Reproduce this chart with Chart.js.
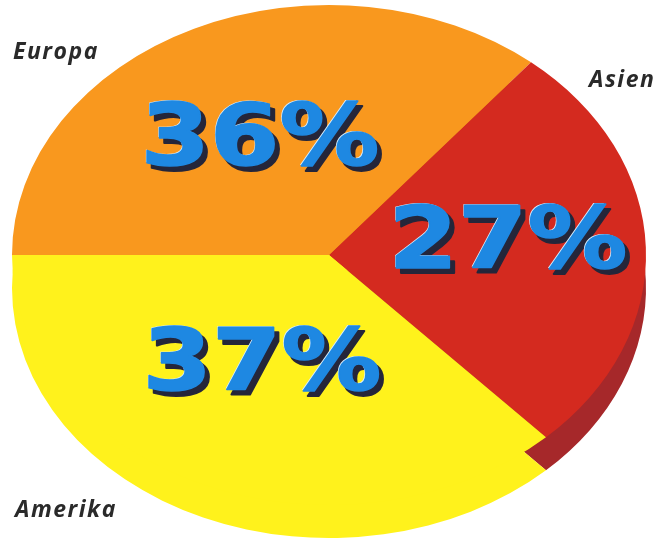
<!DOCTYPE html>
<html>
<head>
<meta charset="utf-8">
<script src="https://cdn.jsdelivr.net/npm/chart.js@4"></script>
<style>
  html, body { margin: 0; padding: 0; background: #fff; }
  #wrap { width: 671px; height: 540px; }
</style>
</head>
<body>
<div id="wrap"><canvas id="pie" width="671" height="540"></canvas></div>
<script>
const categories = ['Europa', 'Asien', 'Amerika'];
const shares = [36, 27, 37];
const sliceColors = ['#F9981E', '#D42A1F', '#FFF21C'];
// the side of the disc; only the red part really shows
const wallColors = ['#FFF21C', '#A6282A', '#FFF21C'];

// where the tilted pie sits on the page
const CX = 329, CY = 255, RX = 317, RY = 250, DEPTH = 33;

function tilt(ctx, arc) {
  ctx.translate(CX, CY);
  ctx.scale(RX / arc.outerRadius, RY / arc.outerRadius);
  ctx.translate(-arc.x, -arc.y);
}

const tiltPlugin = {
  id: 'tilt',
  beforeDatasetsDraw(chart) {
    const ctx = chart.ctx;
    const arcs = chart.getDatasetMeta(0).data;
    // side wall: the same slices pushed down, darker
    ctx.save();
    ctx.translate(0, DEPTH);
    tilt(ctx, arcs[0]);
    arcs.forEach((arc, i) => {
      const bg = arc.options.backgroundColor;
      arc.options.backgroundColor = wallColors[i];
      arc.draw(ctx);
      arc.options.backgroundColor = bg;
    });
    ctx.restore();
    ctx.save();
    tilt(ctx, arcs[0]);
  },
  afterDatasetsDraw(chart) {
    chart.ctx.restore();
  }
};

// label spots: [percent x, percent baseline, name x, name baseline]
const spots = [
  [260, 165, 13, 59],
  [508, 268, 589, 87],
  [262, 390, 15, 517]
];

const labelPlugin = {
  id: 'labels',
  afterDraw(chart) {
    const ctx = chart.ctx;
    shares.forEach((v, i) => {
      const s = spots[i];
      ctx.save();
      ctx.translate(s[0], s[1]);
      ctx.scale(1.16, 1);
      ctx.font = 'bold 86px "DejaVu Sans"';
      ctx.textAlign = 'center';
      ctx.textBaseline = 'alphabetic';
      ctx.lineJoin = 'round';
      const txt = v + '%';
      ctx.fillStyle = '#25263a';
      ctx.strokeStyle = '#25263a';
      ctx.lineWidth = 2;
      ctx.fillText(txt, 4, 5);
      ctx.strokeText(txt, 4, 5);
      ctx.fillStyle = '#d8eeff';
      ctx.fillText(txt, -1.2, -1.2);
      ctx.fillStyle = '#1E88E2';
      ctx.strokeStyle = '#1E88E2';
      ctx.lineWidth = 1.5;
      ctx.fillText(txt, 0, 0);
      ctx.strokeText(txt, 0, 0);
      ctx.restore();

      ctx.save();
      ctx.font = 'italic bold 23px "Open Sans"';
      ctx.letterSpacing = '1.5px';
      ctx.fillStyle = '#2a2a2a';
      ctx.textAlign = 'left';
      ctx.fillText(categories[i], s[2], s[3]);
      ctx.restore();
    });
  }
};

new Chart(document.getElementById('pie').getContext('2d'), {
  type: 'pie',
  data: {
    labels: categories,
    datasets: [{
      data: shares,
      backgroundColor: sliceColors,
      borderWidth: 0
    }]
  },
  options: {
    responsive: false,
    animation: false,
    events: [],
    rotation: -90,
    layout: { padding: 0 },
    plugins: {
      legend: { display: false },
      tooltip: { enabled: false }
    }
  },
  plugins: [tiltPlugin, labelPlugin]
});
</script>
</body>
</html>
